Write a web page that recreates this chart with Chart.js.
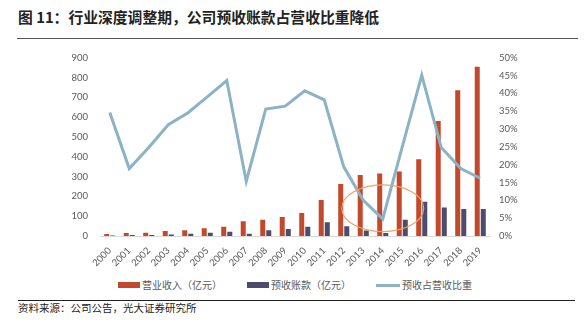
<!DOCTYPE html>
<html>
<head>
<meta charset="utf-8">
<script src="https://cdn.jsdelivr.net/npm/chart.js@4/dist/chart.umd.min.js"></script>
<style>
  html, body { margin: 0; padding: 0; background: #fff; }
  body { width: 584px; height: 335px; position: relative; overflow: hidden; font-family: "Noto Sans CJK SC", sans-serif; }
  #title { position: absolute; left: 18px; top: 8px; font-size: 14.8px; font-weight: bold; color: #222; white-space: nowrap; line-height: 18px; }
  #rule1 { position: absolute; left: 17px; width: 561px; top: 38px; height: 0; border-top: 1px solid #555; }
  #rule2 { position: absolute; left: 18px; width: 557px; top: 300px; height: 0; border-top: 1px solid #222; }
  #source { position: absolute; left: 18px; top: 301px; font-size: 10.5px; color: #222; white-space: nowrap; line-height: 14px; }
  #wrap { position: absolute; left: 0; top: 40px; width: 584px; height: 232px; }
  .lg { position: absolute; top: 277px; font-size: 10px; color: #595959; white-space: nowrap; line-height: 16px; display: flex; align-items: center; }
  .sw { display: inline-block; margin-right: 2px; }
</style>
</head>
<body>
<div id="title">图 11：行业深度调整期，公司预收账款占营收比重降低</div>
<div id="rule1"></div>
<div id="wrap"><canvas id="c"></canvas></div>
<div class="lg" style="left:118px"><span class="sw" style="width:22px;height:6px;background:#C2492B"></span>营业收入（亿元）</div>
<div class="lg" style="left:247px"><span class="sw" style="width:22px;height:6px;background:#4D4C6D"></span>预收账款（亿元）</div>
<div class="lg" style="left:376px"><span class="sw" style="width:24px;height:3px;background:#8CB2C5"></span>预收占营收比重</div>
<div id="rule2"></div>
<div id="source">资料来源：公司公告，光大证券研究所</div>
<script>
const years = ['2000','2001','2002','2003','2004','2005','2006','2007','2008','2009','2010','2011','2012','2013','2014','2015','2016','2017','2018','2019'];
const revenue = [10, 15, 16, 25, 29, 39, 47, 74, 82, 96, 116, 182, 262, 308, 316, 326, 388, 581, 736, 854];
const advances = [3, 5, 5, 8, 11, 16, 21, 11, 29, 35, 47, 70, 49, 28, 15, 82, 173, 144, 136, 136];
const ratioPct = [34.6, 18.9, 24.8, 31.2, 34.5, 39.0, 43.6, 15.3, 35.6, 36.4, 40.7, 38.2, 19.4, 10.0, 4.8, 25.0, 45.1, 24.8, 18.9, 16.2];
const leftTicks = [0, 100, 200, 300, 400, 500, 600, 700, 800, 900];
const rightTicks = [0, 5, 10, 15, 20, 25, 30, 35, 40, 45, 50];
// highlighted region (ellipse around 2014)
const highlightYear = '2014';
const highlightValue = 140;     // left-axis value at ellipse centre
const highlightHalfCats = 2.1;  // horizontal half-size in categories
const highlightHalfValue = 118; // vertical half-size in left-axis units

const tickFont = { family: 'Lato, "Noto Sans CJK SC", sans-serif', size: 9.5 };
const tickColor = '#595959';

const ellipsePlugin = {
  id: 'ellipse',
  afterDatasetsDraw(chart) {
    const xs = chart.scales.x, ys = chart.scales.y;
    const i = years.indexOf(highlightYear);
    const cx = xs.getPixelForValue(i);
    const step = xs.getPixelForValue(1) - xs.getPixelForValue(0);
    const cy = ys.getPixelForValue(highlightValue);
    const ry = Math.abs(ys.getPixelForValue(highlightValue + highlightHalfValue) - cy);
    const ctx = chart.ctx;
    ctx.save();
    ctx.beginPath();
    ctx.ellipse(cx, cy, step * highlightHalfCats, ry, 0, 0, Math.PI * 2);
    ctx.strokeStyle = '#F0A266';
    ctx.lineWidth = 1.2;
    ctx.stroke();
    ctx.restore();
  }
};

new Chart(document.getElementById('c'), {
  type: 'bar',
  data: {
    labels: years,
    datasets: [
      { type: 'line', label: '预收占营收比重', data: ratioPct, yAxisID: 'y1', borderColor: '#8CB2C5', borderWidth: 3, pointRadius: 0, tension: 0, fill: false, order: 0 },
      { label: '营业收入（亿元）', data: revenue, yAxisID: 'y', backgroundColor: '#C2492B', categoryPercentage: 0.62, barPercentage: 0.83, order: 1 },
      { label: '预收账款（亿元）', data: advances, yAxisID: 'y', backgroundColor: '#4D4C6D', categoryPercentage: 0.62, barPercentage: 0.83, order: 1 }
    ]
  },
  options: {
    responsive: true,
    maintainAspectRatio: false,
    animation: false,
    layout: { padding: { top: 12.7, left: 0, right: 0, bottom: 0 } },
    plugins: { legend: { display: false }, tooltip: { enabled: false } },
    scales: {
      x: {
        grid: { display: false, drawTicks: false },
        border: { display: true, color: '#D9D9D9', width: 1 },
        ticks: { font: tickFont, color: tickColor, minRotation: 45, maxRotation: 45, padding: 9, autoSkip: false },
        afterFit(s) { s.height = 36; }
      },
      y: {
        position: 'left', min: 0, max: 900,
        grid: { display: false, drawTicks: false },
        border: { display: false },
        ticks: { font: tickFont, color: tickColor, padding: 12, stepSize: 100 },
        afterBuildTicks(s) { s.ticks = leftTicks.map(v => ({ value: v })); },
        afterFit(s) { s.width = 100; }
      },
      y1: {
        position: 'right', min: 0, max: 50,
        grid: { display: false, drawTicks: false },
        border: { display: false },
        ticks: { font: tickFont, color: tickColor, padding: 9, stepSize: 5, callback: v => v + '%' },
        afterBuildTicks(s) { s.ticks = rightTicks.map(v => ({ value: v })); },
        afterFit(s) { s.width = 94; }
      }
    }
  },
  plugins: [ellipsePlugin]
});
</script>
</body>
</html>
